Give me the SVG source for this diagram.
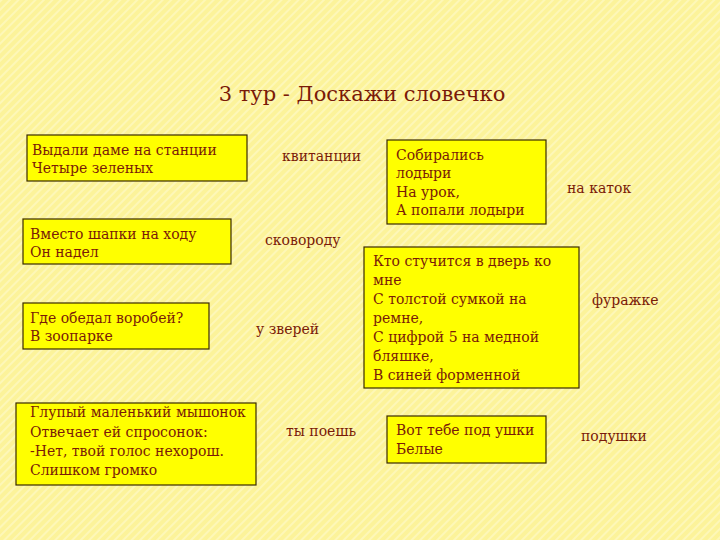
<svg xmlns="http://www.w3.org/2000/svg" width="720" height="540" viewBox="0 0 720 540">
<defs>
<pattern id="st" width="6" height="6" patternUnits="userSpaceOnUse" patternTransform="rotate(45)">
<rect width="6" height="6" fill="#fcf39a"/><rect width="2" height="6" fill="#fdf7b8"/>
</pattern>
<style>
.b{fill:#ffff00;stroke:#3a2a00;stroke-width:1.2}
text{font-family:"DejaVu Serif","Liberation Serif",serif;font-size:14px;fill:#7a1a08}
.t{font-size:21px}
</style>
</defs>
<rect width="720" height="540" fill="url(#st)"/>
<text class="t" x="362" y="101" text-anchor="middle">3 тур - Доскажи словечко</text>
<g id="n1"><rect class="b" x="27" y="135" width="220" height="46"/><text x="32" y="155">Выдали даме на станции</text><text x="32" y="173">Четыре зеленых</text></g>
<g id="n2"><rect class="b" x="23" y="219" width="208" height="45"/><text x="30" y="239">Вместо шапки на ходу</text><text x="30" y="257">Он надел</text></g>
<g id="n3"><rect class="b" x="23" y="303" width="186" height="46"/><text x="30" y="323">Где обедал воробей?</text><text x="30" y="341">В зоопарке</text></g>
<g id="n4"><rect class="b" x="16" y="403" width="240" height="82"/><text x="30" y="417">Глупый маленький мышонок</text><text x="30" y="437">Отвечает ей спросонок:</text><text x="30" y="456">-Нет, твой голос нехорош.</text><text x="30" y="475">Слишком громко</text></g>
<g id="n5"><rect class="b" x="387" y="140" width="159" height="84"/><text x="396" y="160">Собирались</text><text x="396" y="178">лодыри</text><text x="396" y="197">На урок,</text><text x="396" y="215">А попали лодыри</text></g>
<g id="n6"><rect class="b" x="364" y="247" width="215" height="141"/><text x="373" y="266">Кто стучится в дверь ко</text><text x="373" y="285">мне</text><text x="373" y="304">С толстой сумкой на</text><text x="373" y="323">ремне,</text><text x="373" y="342">С цифрой 5 на медной</text><text x="373" y="361">бляшке,</text><text x="373" y="380">В синей форменной</text></g>
<g id="n7"><rect class="b" x="387" y="416" width="159" height="47"/><text x="396" y="435">Вот тебе под ушки</text><text x="396" y="454">Белые</text></g>
<g id="labels">
<text x="282" y="161">квитанции</text>
<text x="265" y="245">сковороду</text>
<text x="256" y="334">у зверей</text>
<text x="286" y="436">ты поешь</text>
<text x="567" y="193">на каток</text>
<text x="592" y="305">фуражке</text>
<text x="581" y="441">подушки</text>
</g>
<g id="connectors"/>
</svg>
